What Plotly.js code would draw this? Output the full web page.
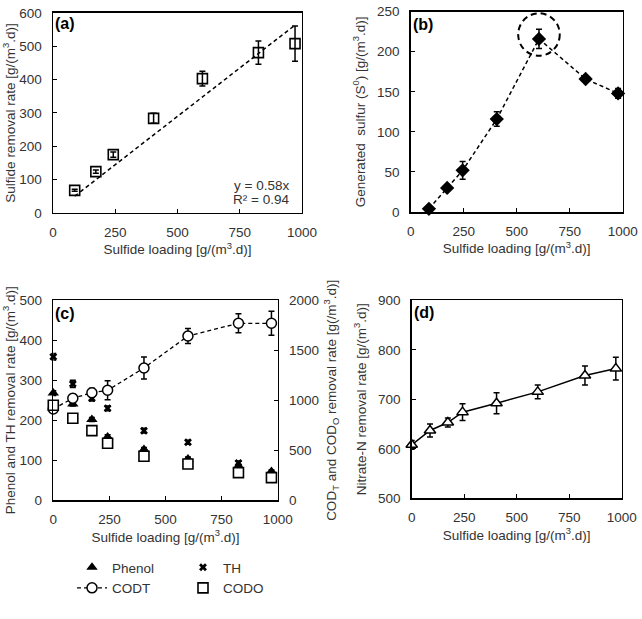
<!DOCTYPE html>
<html>
<head>
<meta charset="utf-8">
<script src="https://cdn.plot.ly/plotly-3.0.1.min.js"></script>
<style>html,body{margin:0;padding:0;background:#fff;}#chart{width:642px;height:619px;}</style>
</head>
<body>
<div id="chart"></div>
<script>
// ---- data ----
const loadingA = [87, 172, 242, 404, 600, 825, 972];
const sulfideRemoval = [68, 124, 175, 284, 403, 481, 508];
const sulfideRemovalErr = [3, 5, 8, 15, 22, 35, 53];
const trendSlope = 0.58;

const loadingB = [86, 172, 245, 406, 605, 825, 978];
const sulfurGen = [4, 30, 52, 116, 216, 166, 148];
const sulfurGenErr = [2, 3, 11, 9, 12, 3, 6];

const loadingC = [0, 87, 172, 242, 404, 600, 825, 972];
const phenol = [268, 241, 202, 158, 127, 103, 86, 72];
const phenolErr = [6, 5, 5, 6, 5, 5, 4, 4];
const th = [359, 291, 255, 230, 174, 145, 93, 66];
const thErr = [8, 9, 7, 6, 6, 5, 5, 4];
const codT = [913, 1020, 1075, 1100, 1323, 1643, 1770, 1770];
const codTErr = [20, 40, 45, 95, 110, 75, 95, 120];
const codO = [950, 820, 697, 570, 440, 363, 277, 227];
const codOErr = [20, 15, 20, 30, 35, 25, 25, 25];

const loadingD = [0, 87, 172, 242, 404, 600, 825, 972];
const nitrate = [608, 637, 653, 674, 692, 715, 748, 762];
const nitrateErr = [9, 13, 9, 17, 21, 14, 19, 23];

const xTicks = [0, 250, 500, 750, 1000];

// ---- styling ----
const FONT = 'Liberation Sans, Arial, sans-serif';
const TXT = '#333333';
const FS = 13.5;
const errStyle = (arr) => ({type: 'data', array: arr, visible: true, color: '#000', thickness: 1.5, width: 3});

const traces = [
  // (a)
  {x: [loadingA[0], loadingA[loadingA.length - 1]],
   y: [trendSlope * loadingA[0], trendSlope * loadingA[loadingA.length - 1]],
   xaxis: 'x', yaxis: 'y', mode: 'lines', line: {color: '#000', width: 1.5, dash: '4px,3px'},
   showlegend: false, hoverinfo: 'skip'},
  {x: loadingA, y: sulfideRemoval, error_y: errStyle(sulfideRemovalErr), xaxis: 'x', yaxis: 'y',
   mode: 'markers', marker: {symbol: 'square-open', size: 10, color: '#000', line: {width: 1.6}}, showlegend: false},
  // (b)
  {x: loadingB, y: sulfurGen, error_y: errStyle(sulfurGenErr), xaxis: 'x2', yaxis: 'y2', cliponaxis: false,
   mode: 'lines+markers', line: {color: '#000', width: 1.5, dash: '4px,3px'},
   marker: {symbol: 'diamond', size: 11, color: '#000'}, showlegend: false},
  // (c)
  {name: 'Phenol', x: loadingC, y: phenol, error_y: errStyle(phenolErr), xaxis: 'x3', yaxis: 'y3', cliponaxis: false,
   mode: 'markers', marker: {symbol: 'triangle-up', size: 10, color: '#000'},
   legend: 'legend', legendgroup: 'g1'},
  {name: 'TH', x: loadingC, y: th, error_y: errStyle(thErr), xaxis: 'x3', yaxis: 'y3', cliponaxis: false,
   mode: 'markers', marker: {symbol: 'x', size: 7, color: '#000'},
   legend: 'legend2', legendgroup: 'g3'},
  {name: 'CODT', x: loadingC, y: codT, error_y: errStyle(codTErr), xaxis: 'x3', yaxis: 'y4', cliponaxis: false,
   mode: 'lines+markers', line: {color: '#000', width: 1.3, dash: '4px,3px'},
   marker: {symbol: 'circle', size: 10, color: '#fff', line: {color: '#000', width: 1.5}},
   legend: 'legend', legendgroup: 'g2'},
  {name: 'CODO', x: loadingC, y: codO, error_y: errStyle(codOErr), xaxis: 'x3', yaxis: 'y4', cliponaxis: false,
   mode: 'markers', marker: {symbol: 'square', size: 10, color: '#fff', line: {color: '#000', width: 1.6}},
   legend: 'legend2', legendgroup: 'g4'},
  // (d)
  {x: loadingD, y: nitrate, error_y: errStyle(nitrateErr), xaxis: 'x4', yaxis: 'y5', cliponaxis: false,
   mode: 'lines+markers', line: {color: '#000', width: 1.5},
   marker: {symbol: 'triangle-up', size: 10, color: '#fff', line: {color: '#000', width: 1.5}}, showlegend: false}
];

const baseAxis = {
  showgrid: false, zeroline: false, showline: true, linecolor: '#000', linewidth: 1.5,
  mirror: true, ticks: 'inside', ticklen: 4, tickwidth: 1, tickcolor: '#000',
  tickfont: {family: FONT, size: FS, color: TXT}, fixedrange: true
};
const xAx = (domain, anchor) => Object.assign({}, baseAxis, {
  domain: domain, anchor: anchor, range: [0, 1000], tickvals: xTicks, ticklabelstandoff: 6,
  title: {text: 'Sulfide loading [g/(m<sup>3</sup>.d)]', font: {family: FONT, size: FS, color: TXT}, standoff: 5}
});
const yAx = (domain, anchor, range, dtick, title, standoff) => Object.assign({}, baseAxis, {
  domain: domain, anchor: anchor, range: range, dtick: dtick, ticklabelstandoff: 7,
  title: {text: title, font: {family: FONT, size: FS, color: TXT}, standoff: standoff}
});

const panelLabel = (txt, xref, yref, y) => ({
  text: '<b>' + txt + '</b>', xref: xref, yref: yref, x: 0.0, y: y, xanchor: 'left', yanchor: 'middle',
  showarrow: false, font: {family: FONT, size: 16, color: '#000'}
});

const legendBase = {yanchor: 'top', xanchor: 'left', orientation: 'v', traceorder: 'grouped',
  tracegroupgap: 0, bgcolor: 'rgba(0,0,0,0)', font: {family: FONT, size: FS, color: TXT}};

const layout = {
  width: 642, height: 619,
  margin: {l: 0, r: 0, t: 0, b: 0},
  paper_bgcolor: '#fff', plot_bgcolor: '#fff',
  font: {family: FONT, size: FS, color: TXT},
  showlegend: true,
  xaxis: xAx([0.0826, 0.4704], 'y'),
  yaxis: yAx([0.6559, 0.979], 'x', [0, 600], 100, 'Sulfide removal rate [g/(m<sup>3</sup>.d)]', 7),
  xaxis2: xAx([0.6397, 0.970], 'y2'),
  yaxis2: yAx([0.6575, 0.9811], 'x2', [0, 250], 50, 'Generated  sulfur (S<sup>0</sup>) [g/(m<sup>3</sup>.d)]', 8),
  xaxis3: xAx([0.083, 0.4326], 'y3'),
  yaxis3: yAx([0.1918, 0.5149], 'x3', [0, 500], 100, 'Phenol and TH removal rate [g/(m<sup>3</sup>.d)]', 7),
  yaxis4: Object.assign(yAx([0.1918, 0.5149], 'x3', [0, 2000], 500,
    'COD<sub>T</sub> and COD<sub>O</sub> removal rate [g(/m<sup>3</sup>.d)]', 8),
    {overlaying: 'y3', side: 'right', mirror: false}),
  xaxis4: xAx([0.6413, 0.9684], 'y5'),
  yaxis5: yAx([0.195, 0.5149], 'x4', [500, 900], 100, 'Nitrate-N removal rate [g/(m<sup>3</sup>.d)]', 8),
  legend: Object.assign({}, legendBase, {x: 72 / 642, y: 1 - 552 / 619}),
  legend2: Object.assign({}, legendBase, {x: 183 / 642, y: 1 - 552 / 619}),
  shapes: [
    {type: 'circle', xref: 'x2', yref: 'y2', x0: 507, x1: 703, y0: 195, y1: 248,
     line: {color: '#000', width: 2, dash: '6px,4px'}}
  ],
  annotations: [
    panelLabel('(a)', 'x domain', 'y domain', 0.945),
    panelLabel('(b)', 'x2 domain', 'y2 domain', 0.934),
    panelLabel('(c)', 'x3 domain', 'y3 domain', 0.936),
    panelLabel('(d)', 'x4 domain', 'y5 domain', 0.938),
    {text: 'y = 0.58x', xref: 'x domain', yref: 'y domain', x: 0.955, y: 0.135, xanchor: 'right', yanchor: 'middle',
     showarrow: false, font: {family: FONT, size: FS, color: TXT}},
    {text: 'R² = 0.94', xref: 'x domain', yref: 'y domain', x: 0.955, y: 0.065, xanchor: 'right', yanchor: 'middle',
     showarrow: false, font: {family: FONT, size: FS, color: TXT}}
  ]
};

Plotly.newPlot('chart', traces, layout, {displayModeBar: false, staticPlot: true});
</script>
</body>
</html>
